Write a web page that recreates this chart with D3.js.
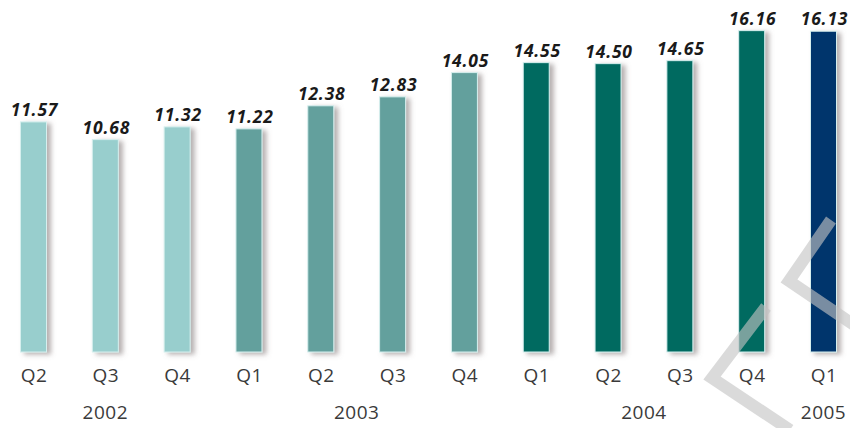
<!DOCTYPE html>
<html>
<head>
<meta charset="utf-8">
<script src="https://cdn.jsdelivr.net/npm/d3@7"></script>
<style>
  html, body { margin: 0; padding: 0; background: #fff; }
  #chart { width: 850px; height: 428px; }
</style>
</head>
<body>
<div id="chart"></div>
<script>
// dati
const quarters = ["Q2", "Q3", "Q4", "Q1", "Q2", "Q3", "Q4", "Q1", "Q2", "Q3", "Q4", "Q1"];
const years = ["2002", "2002", "2002", "2003", "2003", "2003", "2003", "2004", "2004", "2004", "2004", "2005"];
const values = [11.57, 10.68, 11.32, 11.22, 12.38, 12.83, 14.05, 14.55, 14.50, 14.65, 16.16, 16.13];
const yearList = ["2002", "2003", "2004", "2005"];
const yearColors = ["#98cecd", "#63a09d", "#006a61", "#03346c"];

const width = 850, height = 428;
const baseY = 352;

const data = values.map((v, i) => ({ i, q: quarters[i], year: years[i], value: v }));

// scale
const x = d3.scalePoint()
    .domain(d3.range(values.length))
    .range([33.5, 823.5]);

const y = d3.scaleLinear()
    .domain([0, 17.7])
    .range([baseY, 0]);

const color = d3.scaleOrdinal().domain(yearList).range(yearColors);

const barW = 26;

const svg = d3.select("#chart").append("svg")
    .attr("width", width)
    .attr("height", height)
    .style("display", "block")
    .style("font-family", "'Open Sans', sans-serif");

const defs = svg.append("defs");
const shadow = defs.append("filter").attr("id", "shadow")
    .attr("x", "-50%").attr("y", "-10%").attr("width", "200%").attr("height", "120%");
shadow.append("feDropShadow")
    .attr("dx", 4).attr("dy", 2).attr("stdDeviation", 2.5)
    .attr("flood-color", "#7a6e6e").attr("flood-opacity", 0.55);

// barre
svg.append("g").selectAll("rect")
    .data(data).join("rect")
    .attr("x", d => x(d.i) - barW / 2)
    .attr("y", d => y(d.value))
    .attr("width", barW)
    .attr("height", d => baseY - y(d.value))
    .attr("fill", d => color(d.year))
    .attr("stroke", "#d6efee")
    .attr("stroke-width", 1)
    .attr("filter", "url(#shadow)");

// etichette valori
svg.append("g").selectAll("text")
    .data(data).join("text")
    .attr("x", d => x(d.i) + 1)
    .attr("y", d => y(d.value) - 6)
    .attr("text-anchor", "middle")
    .attr("fill", "#1a1a1a")
    .style("font-size", "17.5px")
    .style("font-weight", "bold")
    .style("font-style", "italic")
    .style("letter-spacing", "0.8px")
    .text(d => d.value.toFixed(2));

// asse x: trimestri
const xAxis = svg.append("g")
    .attr("transform", `translate(0,${baseY})`)
    .call(d3.axisBottom(x).tickSize(0).tickPadding(30).tickFormat(i => quarters[i]));
xAxis.select(".domain").remove();
xAxis.selectAll("text")
    .attr("dy", null)
    .attr("y", 30)
    .attr("fill", "#3a3a3a")
    .style("font-size", "19px")
    .style("letter-spacing", "0.5px")
    .style("font-family", "'Open Sans', sans-serif");

// anni, centrati sui loro trimestri
const yearPos = yearList.map(yr => {
    const idx = data.filter(d => d.year === yr).map(d => d.i);
    return { yr, cx: (x(d3.min(idx)) + x(d3.max(idx))) / 2 };
});
svg.append("g").selectAll("text")
    .data(yearPos).join("text")
    .attr("x", d => d.cx)
    .attr("y", 419)
    .attr("text-anchor", "middle")
    .attr("fill", "#3a3a3a")
    .style("font-size", "19px")
    .style("letter-spacing", "0.5px")
    .text(d => d.yr);

// filigrana (decorativa)
const wm = svg.append("g")
    .attr("fill", "none")
    .attr("stroke", "#c4c4c4")
    .attr("stroke-opacity", 0.62)
    .attr("stroke-width", 12)
    .attr("stroke-linejoin", "miter");
wm.append("polyline").attr("points", "766,307 712,378 790,430");
wm.append("polyline").attr("points", "831,220 789,281 860,329");
</script>
</body>
</html>
